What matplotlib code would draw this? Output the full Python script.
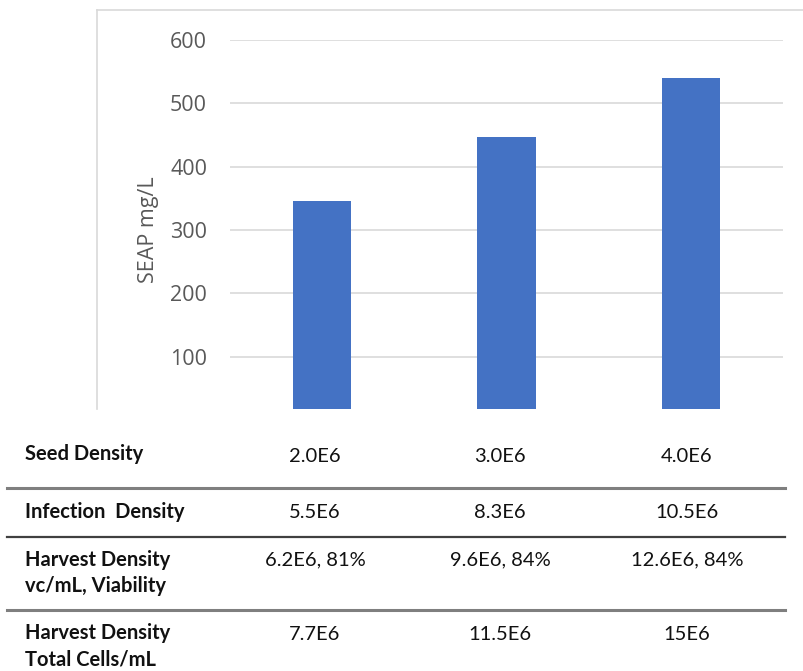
import matplotlib
matplotlib.use("Agg")
import matplotlib.pyplot as plt
from matplotlib.lines import Line2D

# bar values (SEAP titre per seed density)
seap = [346, 447, 540]
yticks = [100, 200, 300, 400, 500, 600]

# table below the chart
row_labels = [
    "Seed Density",
    "Infection  Density",
    "Harvest Density\nvc/mL, Viability",
    "Harvest Density\nTotal Cells/mL",
]
seed_density = ["2.0E6", "3.0E6", "4.0E6"]
infection_density = ["5.5E6", "8.3E6", "10.5E6"]
harvest_viable = ["6.2E6, 81%", "9.6E6, 84%", "12.6E6, 84%"]
harvest_total = ["7.7E6", "11.5E6", "15E6"]

W, H = 804, 671
fig = plt.figure(figsize=(W / 100, H / 100), dpi=100)


def fx(px):
    return px / W


def fy(py):
    return 1 - py / H


# plot area
ax = fig.add_axes([fx(230), fy(409), fx(783) - fx(230), fy(40) - fy(409)])
ax.bar(range(len(seap)), seap, width=0.315, color="#4472C4", zorder=3)
ax.set_xlim(-0.5, 2.5)
ax.set_ylim(17.4, 600)
ax.set_yticks(yticks)
ax.set_xticks([])
ax.grid(axis="y", color="#d9d9d9", linewidth=1.2, zorder=0)
for s in ax.spines.values():
    s.set_visible(False)
ax.tick_params(axis="y", length=0, pad=16.5, labelsize=15.5, labelcolor="#595959")
for t in ax.get_yticklabels():
    t.set_fontfamily("Open Sans")

fig.text(fx(149), fy(230), "SEAP mg/L", rotation=90, ha="center", va="center",
         fontsize=15.5, color="#595959", family="Open Sans")

# chart area border (left and top edges)
fig.add_artist(Line2D([fx(97), fx(97)], [fy(409), fy(10)], color="#d9d9d9", lw=1.2))
fig.add_artist(Line2D([fx(97), fx(804)], [fy(10), fy(10)], color="#d9d9d9", lw=1.2))

# table
col_x = [315, 500, 687]
label_y = [454, 512, 573, 646.5]
value_y = [456, 513, 560, 634]
rows = [seed_density, infection_density, harvest_viable, harvest_total]
tcolor = "#111111"
tfont = "Lato"
for lab, ly, vals, vy in zip(row_labels, label_y, rows, value_y):
    fig.text(fx(25), fy(ly), lab, ha="left", va="center",
             fontsize=14.5, fontweight="bold", color=tcolor, family=tfont,
             linespacing=1.4)
    for cx, v in zip(col_x, vals):
        fig.text(fx(cx), fy(vy), v, ha="center", va="center",
                 fontsize=14.5, color=tcolor, family=tfont)

# row separators
for yy, lw, c in [(488, 2.2, "#7f7f7f"), (537, 1.6, "#404040"), (610, 2.2, "#7f7f7f")]:
    fig.add_artist(Line2D([fx(7), fx(785)], [fy(yy), fy(yy)], color=c, lw=lw))

fig.savefig("out.png", dpi=100)
